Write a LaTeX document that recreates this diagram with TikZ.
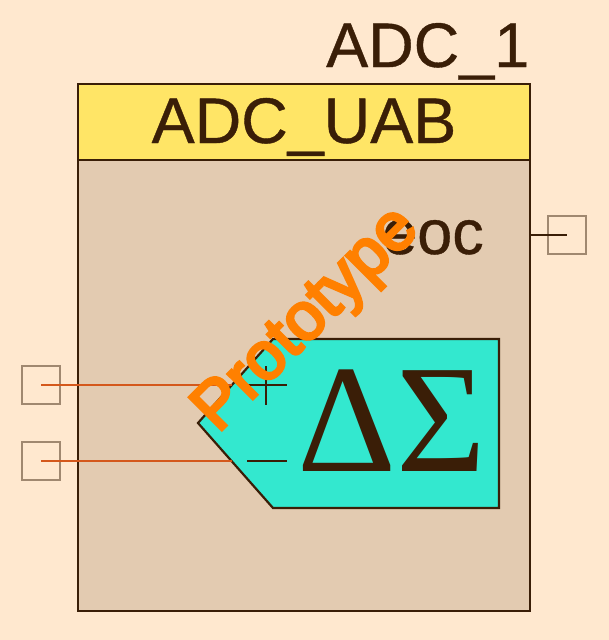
\documentclass[tikz,border=0pt]{standalone}
\usepackage{xcolor}
\usepackage{fontspec}
\setmainfont[FakeBold=0.6]{Liberation Sans}
\newfontfamily\symbfont{Liberation Serif}
\newfontfamily\stampfont[FakeBold=4.5]{Liberation Sans}
\usetikzlibrary{positioning}

\definecolor{paper}{HTML}{FFE8CF}
\definecolor{bodyfill}{HTML}{E3CBB1}
\definecolor{headfill}{HTML}{FFE566}
\definecolor{adcfill}{HTML}{33E8CF}
\definecolor{ink}{HTML}{3A1E07}
\definecolor{portline}{HTML}{A08870}
\definecolor{wirered}{HTML}{D4581C}
\definecolor{stamp}{HTML}{FF8000}

\tikzset{
    x=1pt, y=-1pt,
    block/.style={draw=ink, line width=2.2pt, minimum width=452pt, inner sep=0pt, outer sep=0pt},
    port/.style={draw=portline, line width=2.2pt, minimum size=38pt, inner sep=0pt},
    wire/.style={line width=2.2pt, draw=wirered},
    label/.style={text=ink, inner sep=0pt, font=\fontsize{63}{63}\selectfont}
}

\begin{document}
\begin{tikzpicture}

    % page
    \node[fill=paper, minimum width=609pt, minimum height=640pt, inner sep=0pt, outer sep=0pt] (page) at (304.5,320) {};

    % component box
    \node[block, fill=headfill, minimum height=76pt] (head) at (304,122) {};
    \node[block, fill=bodyfill, minimum height=451pt, below=0pt of head] (body) {};
    \node[label, anchor=base east] (inst) at (529.5,67) {ADC\_1};
    \node[label, anchor=base, font=\fontsize{64.5}{64.5}\selectfont] (name) at (304,143) {ADC\_UAB};
    \node[label, anchor=base] (eoc) at (433,254) {eoc};

    % modulator
    \coordinate (a_nw) at (273,339);
    \coordinate (a_ne) at (499,339);
    \coordinate (a_se) at (499,508);
    \coordinate (a_sw) at (273,508);
    \coordinate (a_w)  at (198,423);
    \draw[fill=adcfill, draw=ink, line width=2.2pt] (a_nw) -- (a_ne) -- (a_se) -- (a_sw) -- (a_w) -- cycle;
    \node[text=ink, inner sep=0pt, anchor=base, font=\symbfont\fontsize{154}{154}\selectfont] (dsig) at (392,471.5) {ΔΣ};

    % polarity marks
    \coordinate (plus_l)  at (247,385);
    \coordinate (plus_r)  at (287,385);
    \coordinate (plus_t)  at (266,366);
    \coordinate (plus_b)  at (266,405);
    \coordinate (minus_l) at (247,461);
    \coordinate (minus_r) at (287,461);
    \draw[ink, line width=2.2pt] (plus_l) -- (plus_r);
    \draw[ink, line width=2.2pt] (plus_t) -- (plus_b);
    \draw[ink, line width=2.2pt] (minus_l) -- (minus_r);

    % terminals
    \node[port] (vp)  at (41,385) {};
    \node[port] (vn)  at (41,461) {};
    \node[port] (out) at (567,235) {};
    \coordinate (vp_in)  at (232,385);
    \coordinate (vn_in)  at (231.5,461);
    \coordinate (out_in) at (530,235);

    % the connection
    \draw[wire] (vp.center) -- (vp_in);
    \draw[wire] (vn.center) -- (vn_in);
    \draw[line width=2.2pt, ink] (out_in) -- (out.center);

    % stamp
    \node[text=stamp, inner sep=0pt, rotate=45, font=\stampfont\fontsize{67}{67}\selectfont] (proto) at (308,321) {Prototype};

\end{tikzpicture}
\end{document}
